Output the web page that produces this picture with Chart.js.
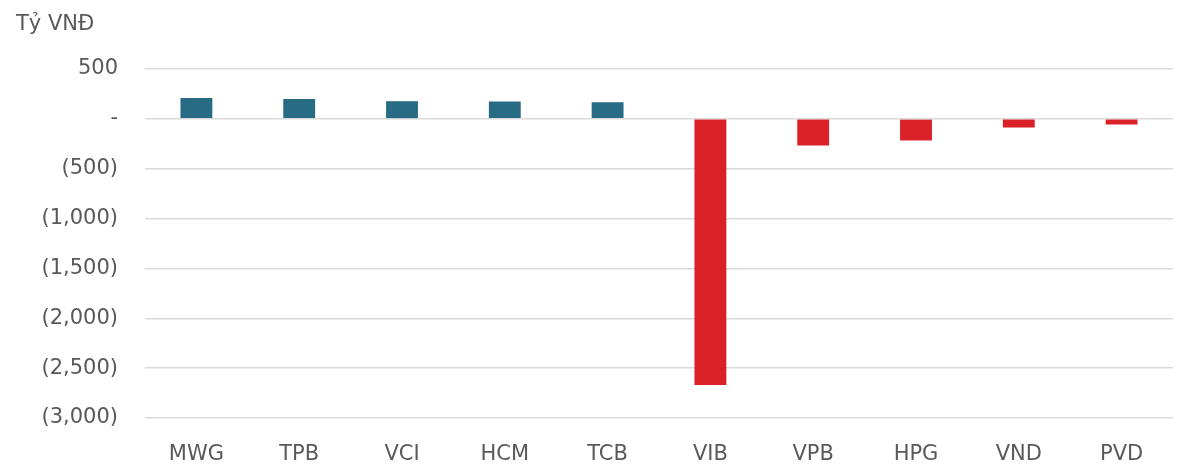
<!DOCTYPE html>
<html>
<head>
<meta charset="utf-8">
<script src="https://cdn.jsdelivr.net/npm/chart.js@4/dist/chart.umd.min.js"></script>
<style>
  html, body { margin: 0; padding: 0; background: #fff; }
  #wrap { width: 1188px; height: 466px; position: relative; }
</style>
</head>
<body>
<div id="wrap"><canvas id="myChart"></canvas></div>
<script>
var tickers = ['MWG', 'TPB', 'VCI', 'HCM', 'TCB', 'VIB', 'VPB', 'HPG', 'VND', 'PVD'];
var netValues = [210, 200, 177, 173, 167, -2670, -267, -217, -87, -57];
var unitLabel = 'Tỷ VNĐ';

var buyColor = '#286B84';
var sellColor = '#DB2128';
var textColor = '#595959';
var fontName = "'DejaVu Sans', sans-serif";

// so am trong ngoac, 0 thanh "-"
function fmtTick(v) {
    if (v === 0) return '-';
    var s = Math.abs(v).toLocaleString('en-US');
    return v < 0 ? '(' + s + ')' : s;
}

var unitTitle = {
    id: 'unitTitle',
    afterDraw: function (chart) {
        var ctx = chart.ctx;
        ctx.save();
        ctx.font = '21px ' + fontName;
        ctx.fillStyle = textColor;
        ctx.textBaseline = 'middle';
        ctx.fillText(unitLabel, 16, 25);
        ctx.restore();
    }
};

new Chart('myChart', {
    type: 'bar',
    data: {
        labels: tickers,
        datasets: [{
            data: netValues,
            backgroundColor: netValues.map(function (v) { return v >= 0 ? buyColor : sellColor; }),
            categoryPercentage: 1,
            barPercentage: 0.31
        }]
    },
    options: {
        responsive: true,
        maintainAspectRatio: false,
        animation: false,
        layout: { padding: { top: 69, right: 15, left: 0, bottom: 0 } },
        plugins: {
            legend: { display: false },
            tooltip: { enabled: false }
        },
        scales: {
            x: {
                grid: { display: false, drawTicks: false },
                border: { display: false },
                ticks: { color: textColor, font: { family: fontName, size: 21 }, padding: 24 },
                afterFit: function (s) { s.height = 48; }
            },
            y: {
                min: -3000,
                max: 500,
                ticks: {
                    stepSize: 500,
                    color: textColor,
                    font: { family: fontName, size: 21 },
                    padding: 27,
                    callback: fmtTick
                },
                grid: { color: '#d9d9d9', lineWidth: 1.5, drawTicks: false },
                border: { display: false },
                afterFit: function (s) { s.width = 145; }
            }
        }
    },
    plugins: [unitTitle]
});
</script>
</body>
</html>
